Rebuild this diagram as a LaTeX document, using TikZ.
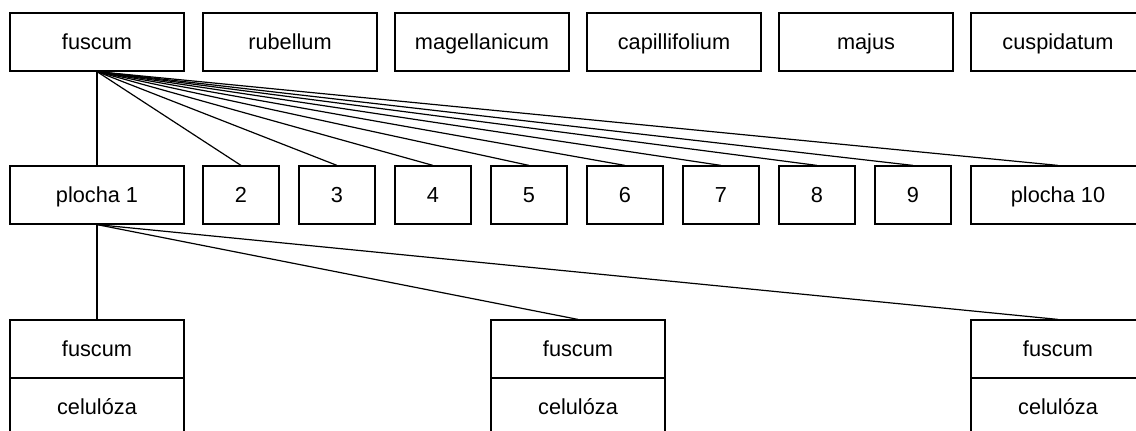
\documentclass[tikz,border=0pt]{standalone}
\usepackage{fontspec}
\setmainfont{Liberation Sans}
\begin{document}
\begin{tikzpicture}[x=0.75pt,y=-0.75pt,
  box/.style={draw, line width=0.9pt, rectangle, inner sep=0pt,
    minimum height=58*0.75pt, text height=12pt, text depth=1.5pt,
    font=\fontsize{16.3}{19}\selectfont},
  wide/.style={box, minimum width=174*0.75pt},
  narrow/.style={box, minimum width=76*0.75pt},
  link/.style={line width=0.9pt}]
\useasboundingbox (0,0) rectangle (1136,430);
\clip (0,0) rectangle (1136,430);

% species row
\node[wide] (sp1) at (97,42) {fuscum};
\node[wide] (sp2) at (290,42) {rubellum};
\node[wide] (sp3) at (482,42) {magellanicum};
\node[wide] (sp4) at (674,42) {capillifolium};
\node[wide] (sp5) at (866,42) {majus};
\node[wide] (sp6) at (1058,42) {cuspidatum};

% plots row
\node[wide] (p1) at (97,195) {plocha 1};
\node[narrow] (p2) at (241,195) {2};
\node[narrow] (p3) at (337,195) {3};
\node[narrow] (p4) at (433,195) {4};
\node[narrow] (p5) at (529,195) {5};
\node[narrow] (p6) at (625,195) {6};
\node[narrow] (p7) at (721,195) {7};
\node[narrow] (p8) at (817,195) {8};
\node[narrow] (p9) at (913,195) {9};
\node[wide] (p10) at (1058,195) {plocha 10};

% samples row
\node[wide] (s1a) at (97,349) {fuscum};
\node[wide] (s1b) at (97,407) {celulóza};
\node[wide] (s2a) at (578,349) {fuscum};
\node[wide] (s2b) at (578,407) {celulóza};
\node[wide] (s3a) at (1058,349) {fuscum};
\node[wide] (s3b) at (1058,407) {celulóza};

% connectors
\foreach \p in {p1,p2,p3,p4,p5,p6,p7,p8,p9,p10}
  \draw[link] (sp1.south) -- (\p.north);
\foreach \s in {s1a,s2a,s3a}
  \draw[link] (p1.south) -- (\s.north);
\end{tikzpicture}
\end{document}
